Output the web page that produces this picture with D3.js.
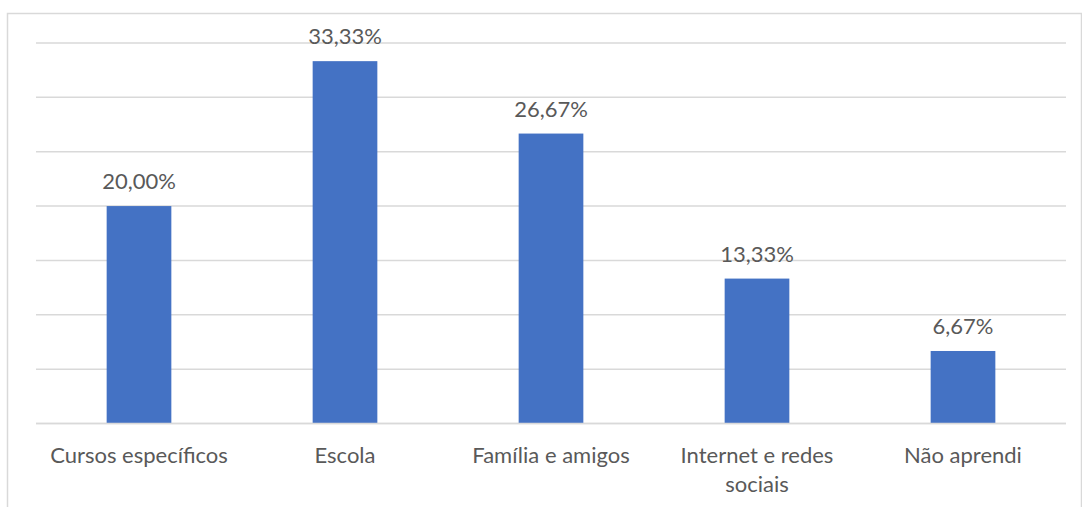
<!DOCTYPE html>
<html>
<head>
<meta charset="utf-8">
<script src="https://cdn.jsdelivr.net/npm/d3@7"></script>
<style>
  html, body { margin: 0; padding: 0; background: #fff; }
  svg { display: block; }
  text { font-family: "Lato", "Noto Sans", sans-serif; fill: #595959; }
</style>
</head>
<body>
<svg id="chart" width="1082" height="507"></svg>
<script>
const categories = ["Cursos específicos", "Escola", "Família e amigos", "Internet e redes sociais", "Não aprendi"];
const values = [20.00, 33.33, 26.67, 13.33, 6.67];
const valueLabels = ["20,00%", "33,33%", "26,67%", "13,33%", "6,67%"];
const yTicks = [0, 5, 10, 15, 20, 25, 30, 35];

(function () {
const svg = d3.select("#chart");
const mLeft = 36, mRight = 1066, mTop = 43, mBottom = 423.5;
const fontSize = 22;

// outer chart border
svg.append("rect")
  .attr("x", 7.5).attr("y", 13.5)
  .attr("width", 1074).attr("height", 510)
  .attr("fill", "none").attr("stroke", "#d9d9d9").attr("stroke-width", 1.5);

const x = d3.scaleBand().domain(categories).range([mLeft, mRight])
  .paddingInner(0.686).paddingOuter(0.343);
const y = d3.scaleLinear().domain([0, 35]).range([mBottom, mTop]);

// gridlines
svg.append("g").selectAll("line").data(yTicks).join("line")
  .attr("x1", mLeft).attr("x2", mRight)
  .attr("y1", d => y(d)).attr("y2", d => y(d))
  .attr("stroke", "#d9d9d9").attr("stroke-width", 1.5);

// bars
svg.append("g").selectAll("rect").data(values).join("rect")
  .attr("x", (d, i) => x(categories[i]))
  .attr("width", x.bandwidth())
  .attr("y", d => y(d))
  .attr("height", d => y(0) - y(d))
  .attr("fill", "#4472C4");

// baseline drawn over bars
svg.append("line")
  .attr("x1", mLeft).attr("x2", mRight)
  .attr("y1", y(0)).attr("y2", y(0))
  .attr("stroke", "#d9d9d9").attr("stroke-width", 1.5);

// value labels
svg.append("g").selectAll("text").data(values).join("text")
  .attr("x", (d, i) => x(categories[i]) + x.bandwidth() / 2)
  .attr("y", d => y(d) - 17)
  .attr("text-anchor", "middle")
  .attr("font-size", fontSize)
  .text((d, i) => valueLabels[i]);

// category labels with wrapping
const step = x.step();
const catG = svg.append("g");
categories.forEach((c) => {
  const cx = x(c) + x.bandwidth() / 2;
  const t = catG.append("text")
    .attr("x", cx).attr("y", 463)
    .attr("text-anchor", "middle")
    .attr("font-size", fontSize);
  const words = c.split(" ");
  let line = [];
  let tspan = t.append("tspan").attr("x", cx).attr("dy", 0);
  words.forEach(w => {
    line.push(w);
    tspan.text(line.join(" "));
    if (tspan.node().getComputedTextLength() > step - 20 && line.length > 1) {
      line.pop();
      tspan.text(line.join(" "));
      line = [w];
      tspan = t.append("tspan").attr("x", cx).attr("dy", 28.5).text(w);
    }
  });
});
})();
</script>
</body>
</html>
